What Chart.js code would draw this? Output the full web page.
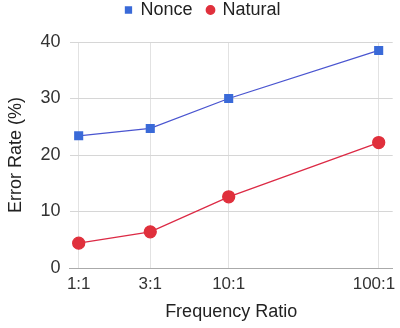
<!DOCTYPE html>
<html>
<head>
<meta charset="utf-8">
<script src="https://cdn.jsdelivr.net/npm/chart.js@4"></script>
<style>
  html, body { margin: 0; padding: 0; background: #fff; }
  #wrap { width: 400px; height: 328px; }
</style>
</head>
<body>
<div id="wrap"><canvas id="chart" width="400" height="328"></canvas></div>
<script>
// frequency ratios (x, log scale) and their labels
const ratios = [1, 3, 10, 100];
const ratioLabels = ['1:1', '3:1', '10:1', '100:1  '];
// error rates (%)
const nonce = [23.4, 24.7, 30.0, 38.5];
const natural = [4.4, 6.4, 12.6, 22.2];
const yTicks = [0, 10, 20, 30, 40];

const font = 'Liberation Sans, Arial, sans-serif';

// extra room under the legend, and nudge it a bit to the right
const legendTweak = {
  id: 'legendTweak',
  beforeInit(chart) {
    const fit = chart.legend.fit;
    chart.legend.fit = function () {
      fit.bind(chart.legend)();
      this.height += 13;
    };
  },
  afterLayout(chart) {
    chart.legend.left += 6;
    chart.legend.right += 6;
  }
};

const ctx = document.getElementById('chart').getContext('2d');
new Chart(ctx, {
  type: 'line',
  data: {
    datasets: [
      {
        label: 'Nonce',
        data: ratios.map((r, i) => ({ x: r, y: nonce[i] })),
        borderColor: '#4a55d0',
        backgroundColor: '#3a6ad8',
        pointBackgroundColor: '#3a6ad8',
        pointBorderColor: '#3a6ad8',
        pointStyle: 'rect',
        pointRadius: 5.5,
        borderWidth: 1.3,
        tension: 0
      },
      {
        label: 'Natural',
        data: ratios.map((r, i) => ({ x: r, y: natural[i] })),
        borderColor: '#dc2a45',
        backgroundColor: '#e0303c',
        pointBackgroundColor: '#e0303c',
        pointBorderColor: '#e0303c',
        pointStyle: 'circle',
        pointRadius: 6,
        borderWidth: 1.3,
        tension: 0
      }
    ]
  },
  plugins: [legendTweak],
  options: {
    responsive: false,
    animation: false,
    layout: { padding: { left: 1, right: 7, top: -14, bottom: 5 } },
    plugins: {
      tooltip: { enabled: false },
      legend: {
        position: 'top',
        labels: {
          usePointStyle: true,
          boxWidth: 6,
          boxHeight: 6,
          padding: 15,
          color: '#222',
          font: { family: font, size: 18 }
        }
      }
    },
    scales: {
      x: {
        type: 'logarithmic',
        min: 0.87,
        max: 124,
        afterBuildTicks: axis => {
          axis.ticks = ratios.map(v => ({ value: v }));
        },
        // let the last label sit at the plot edge, no extra padding
        afterFit: axis => {
          axis.paddingRight = 0;
          axis.paddingLeft = 0;
        },
        ticks: {
          autoSkip: false,
          maxRotation: 0,
          color: '#333',
          padding: 6,
          font: { family: font, size: 17 },
          callback: v => ratioLabels[ratios.indexOf(v)] || ''
        },
        grid: { color: '#e2e2e2', drawTicks: false },
        border: { display: true, color: '#aaa' },
        title: {
          display: true,
          text: 'Frequency Ratio',
          color: '#222',
          font: { family: font, size: 18 },
          padding: { top: 1, bottom: 0 }
        }
      },
      y: {
        min: 0,
        max: 40,
        afterBuildTicks: axis => {
          axis.ticks = yTicks.map(v => ({ value: v }));
        },
        ticks: {
          color: '#333',
          padding: 9,
          font: { family: font, size: 18 }
        },
        grid: { color: '#d6d6d6', drawTicks: false },
        border: { display: false },
        title: {
          display: true,
          text: 'Error Rate (%)',
          color: '#222',
          font: { family: font, size: 18 },
          padding: { top: 4, bottom: 5 }
        }
      }
    }
  }
});
</script>
</body>
</html>
